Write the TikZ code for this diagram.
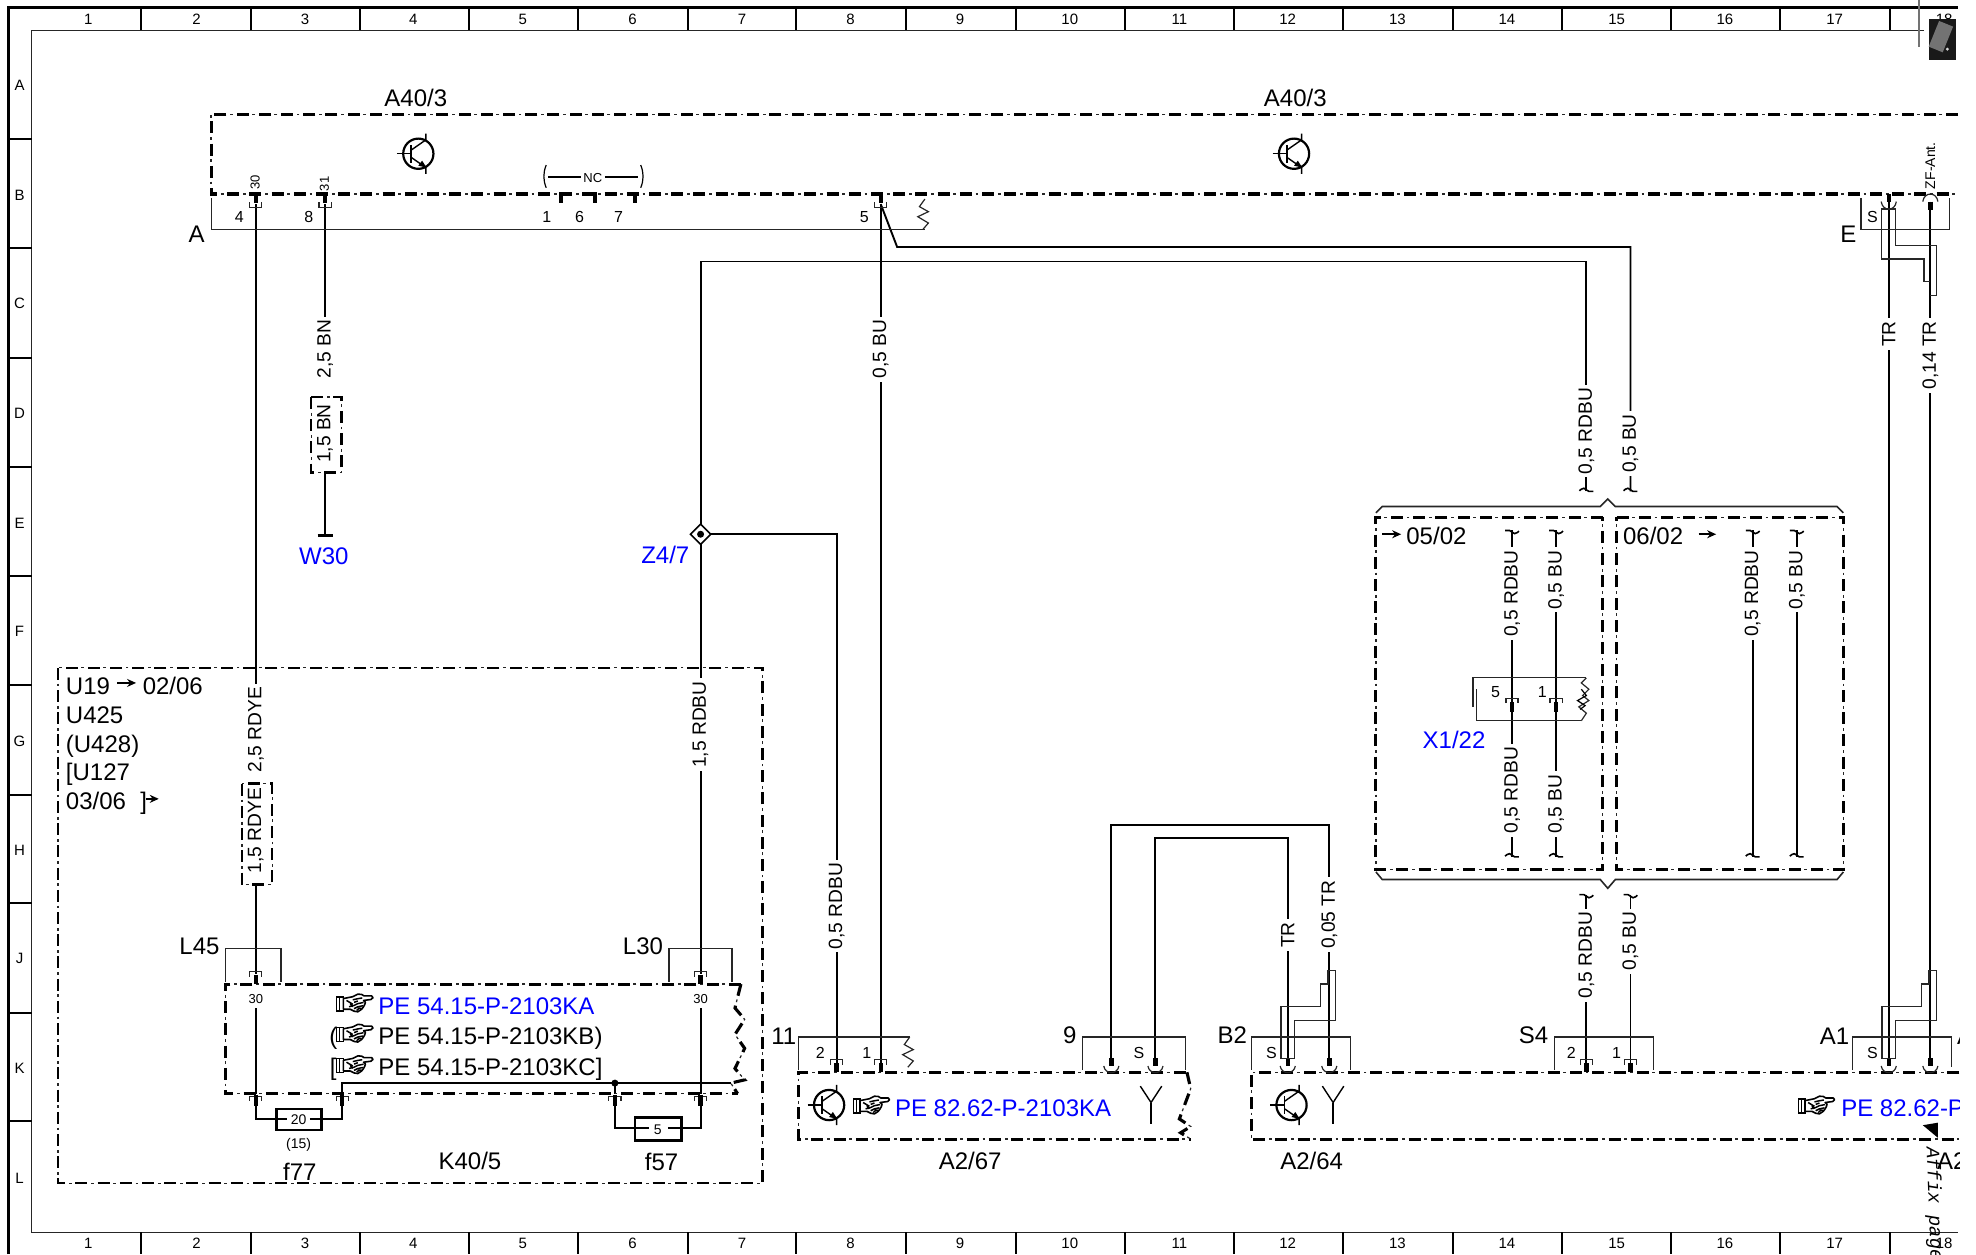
\documentclass[tikz,border=0pt]{standalone}
\usepackage{fontspec}
\setmainfont{Liberation Sans}
\setmonofont{Liberation Mono}
\usetikzlibrary{arrows.meta}
\definecolor{refblue}{RGB}{0,0,255}
\tikzset{
 wire/.style={line width=.95pt,black},
 thinl/.style={line width=.6pt,black!85},
 frameline/.style={line width=1pt,black},
 boxdash/.style={line width=1.55pt,black,dash pattern=on 6pt off 5.1pt,
   postaction={draw,line width=.6pt,black!85,dash pattern=on 1.4pt off 9.7pt,dash phase=3.2pt}},
 subdash/.style={line width=1.25pt,black,dash pattern=on 6pt off 5.1pt,
   postaction={draw,line width=.6pt,black!85,dash pattern=on 1.4pt off 9.7pt,dash phase=3.2pt}},
 stub/.style={line width=2.2pt,black},
 txt/.style={font=\fontsize{12}{12}\selectfont,inner sep=0pt,text height=8.6pt,text depth=0pt},
 bluetxt/.style={txt,text=refblue},
 small/.style={font=\fontsize{8}{8}\selectfont,inner sep=0pt},
 tiny/.style={font=\fontsize{6.5}{6.5}\selectfont,inner sep=0pt},
 gridno/.style={font=\fontsize{7.5}{7.5}\selectfont,inner sep=0pt},
 wirelabel/.style={font=\fontsize{9.6}{9.6}\selectfont,rotate=90,fill=white,inner sep=1.6pt,xshift=.6pt},
 arrowl/.style={line width=.8pt,-{Stealth[length=4.5pt,width=4pt]}},
}
% bracket: x, y of the closed side, y of the open ends
\newcommand\brk[3]{\draw[thinl] (#1-4.8,#3)--(#1-4.8,#2)--(#1+4.8,#2)--(#1+4.8,#3);}
% cup: x, y of the opening, y of the rounded side
\newcommand\cupp[3]{\draw[thinl] (#1-6,#2) .. controls (#1-5,#3) and (#1+5,#3) .. (#1+6,#2);}
\newcommand\hookk[3]{\begin{scope}[shift={(#1,#2)},xscale=#3,yscale=#3]
 \draw[wire,line width=.8pt] (-5.5,0)--(-2,0) .. controls (-.5,0) and (.5,2.5) .. (2,2.5) .. controls (3.5,2.5) and (5,1) .. (5.5,.5);
\end{scope}}
\newcommand\transistor[2]{\begin{scope}[shift={(#1,#2)}]
 \draw[line width=1.1pt] (0,0) circle[radius=12];
 \draw[line width=.7pt] (-17,0)--(-5,0);
 \draw[line width=.9pt] (-5.5,-7)--(-5.5,7);
 \draw[line width=.7pt] (-5.5,-3)--(6,-11) (6,-16)--(6,-11);
 \draw[line width=.7pt] (-5.5,3)--(6,11) (6,11)--(6,16);
 \fill (6.5,11)--(0,9.5)--(3,5.5)--cycle;
\end{scope}}
\newcommand\antenna[2]{\begin{scope}[shift={(#1,#2)}]
 \draw[line width=.7pt] (-8.5,-15)--(0,-2)--(8.5,-15);
 \draw[line width=.95pt] (0,-2)--(0,15);
\end{scope}}
\newcommand\zigz[2]{\draw[thinl] (#1,#2)--++(-4.3,6)--++(7.1,4)--++(-8.4,4)--++(8.4,5)--++(-4.3,5);}
\newcommand\shield[2]{\begin{scope}[shift={(#1,#2)}]
 \draw[line width=.7pt,black!85] (0,0)--(0,-41)--(31.5,-41)--(31.5,-59)--(37.5,-59)--(37.5,-70)--(43.5,-70)--(43.5,-30)--(11,-30)--(11,0)--cycle;
\end{scope}}
\newcommand\handicon[2]{\begin{scope}[shift={(#1,#2)}]
 \draw[line width=.6pt,fill=white] (-13.8,-4.8) rectangle (-8.5,6.3);
 \draw[line width=.5pt] (-11.2,-4.8)--(-11.2,6.3);
 \draw[line width=.8pt,fill=white,line join=round] (-8.5,-3.5)--(-1,-5)--(3,-7)--(6,-6.8)--(8,-5.6)--(14,-5.6)--(15,-4.2)--(13.5,-2.8)--(7.5,-2)--(9,-.6)--(8.5,1.2)--(7.5,3)--(6,5)--(3,7)--(0,6.5)--(-3,5)--(-8.5,5)--cycle;
 \draw[line width=.75pt] (-6,-2)--(-1,1) (-4,3)--(0,2)--(3,.5)--(7.5,-.4) (0,4.5)--(3,3)--(7,2.2) (2,6)--(4,4.2)--(6,4.2) (-1,-2.5)--(3,-3.4)--(6.5,-4) (0,-.5)--(3,-1.6) (-3,.5)--(-1,3);
\end{scope}}
\begin{document}
\begin{tikzpicture}[x=.63pt,y=-.63pt]
\useasboundingbox (0,0) rectangle (1568.25,995.25);
% ----- frame -----
\draw[line width=1.4pt] (7,995.25)--(7,6)--(1554,6);
\draw[thinl] (1527,24)--(25,24)--(25,978)--(1554,978);
\foreach \x in {112,199,286,372,459,546,632,719,806,893,979,1066,1153,1240,1326,1413,1500}{
 \draw[frameline] (\x,6)--(\x,24);
 \draw[frameline] (\x,978)--(\x,995.25);
}
\foreach \y in {110,197,284,371,457,544,631,717,804,890}{
 \draw[frameline] (7,\y)--(25,\y);
}
\foreach \n/\x in {1/70,2/156,3/242,4/328,5/415,6/502,7/589,8/675,9/762,10/849,11/936,12/1022,13/1109,14/1196,15/1283,16/1369,17/1456,18/1543}{
 \node[gridno] (topn\n) at (\x,15.5) {\n};
 \node[gridno] (botn\n) at (\x,987) {\n};
}
\foreach \n/\y in {A/68,B/155,C/241,D/328,E/415,F/501,G/588,H/675,J/761,K/848,L/935}{
 \node[gridno] (row\n) at (15.5,\y) {\n};
}
\draw[line width=.9pt,black!55] (1523,0)--(1523,37);
\fill[black!90] (1531,15) rectangle (1552,48);
\fill[black!55,rotate around={-22:(1540,30)}] (1534,18) rectangle (1546,40);
\fill[white!85!black] (1545.5,39) circle[radius=1.3];
% ----- coordinates of the wire ends -----
\coordinate (a30) at (203,162);
\coordinate (brye) at (203,702);
\coordinate (bbn) at (258,375);
\coordinate (l45) at (203,773);
\coordinate (l45b) at (203,800);
\coordinate (f77l) at (203,868);
\coordinate (f77r) at (271.6,868);
\coordinate (a31) at (258,162);
\coordinate (w30) at (258,425);
\coordinate (a5) at (699,162);
\coordinate (p1) at (699,844);
\coordinate (p2) at (664,844);
\coordinate (z47) at (556,424);
\coordinate (l30) at (556,773);
\coordinate (l30b) at (556,800);
\coordinate (f57r) at (556,868);
\coordinate (f57l) at (488,868);
\coordinate (juncf) at (488,859.6);
\coordinate (t1) at (1259,390);
\coordinate (t2) at (1294,390);
\coordinate (q1) at (1200,421);
\coordinate (q2) at (1235,421);
\coordinate (q3) at (1391,421);
\coordinate (q4) at (1426,421);
\coordinate (r1) at (1200,680);
\coordinate (r2) at (1235,680);
\coordinate (r3) at (1391,680);
\coordinate (r4) at (1426,680);
\coordinate (s1) at (1259,710);
\coordinate (s2) at (1294,710);
\coordinate (s4a) at (1259,844);
\coordinate (s4b) at (1294,844);
\coordinate (n1) at (882,846);
\coordinate (n2) at (917,846);
\coordinate (b1) at (1022,846);
\coordinate (b2) at (1055,846);
\coordinate (e1) at (1499,160);
\coordinate (e2) at (1532,160);
\coordinate (m1) at (1499,846);
\coordinate (m2) at (1532,846);
% ----- wires -----
\draw[wire] (a30)--(203,550);
\draw[wire] (brye)--(l45);
\draw[wire] (l45b)--(f77l);
\draw[wire] (a31)--(258,262);
\draw[wire] (bbn)--(w30);
\draw[line width=1.6pt] (252,425)--(264,425);
\draw[wire] (a5)--(p1);
\draw[wire] (a5)--(712,196)--(1294,196)--(t2);
\draw[wire] (t1)--(1259,207.5)--(556,207.5)--(z47);
\draw[wire] (z47)--(l30);
\draw[wire] (l30b)--(f57r);
\draw[wire] (z47)-|(p2);
\draw[wire] (q1)--(r1);
\draw[wire] (q2)--(r2);
\draw[wire] (q3)--(r3);
\draw[wire] (q4)--(r4);
\draw[wire] (s1)--(s4a);
\draw[wire] (s2)--(s4b);
\draw[wire] (n1)--(882,655)--(1055,655)--(b2);
\draw[wire] (n2)--(917,665)--(1022,665)--(b1);
\draw[wire] (e1)--(m1);
\draw[wire] (e2)--(m2);
\draw[wire] (f77r)--(271.6,859.6)--(580,859.6);
\draw[wire] (juncf)--(f57l);
\fill (juncf) circle[radius=2.8];
% hooks
\hookk{1259}{390}{-1}\hookk{1294}{390}{-1}
\hookk{1200}{421}{1}\hookk{1235}{421}{1}\hookk{1391}{421}{1}\hookk{1426}{421}{1}
\hookk{1200}{680}{-1}\hookk{1235}{680}{-1}\hookk{1391}{680}{-1}\hookk{1426}{680}{-1}
\hookk{1259}{710}{1}\hookk{1294}{710}{1}
% ----- A40/3 module -----
\draw[boxdash] (1554,91)--(167.5,91)--(167.5,154)--(1554,154);
\node[txt] (a403a) at (330,78) {A40/3};
\node[txt] (a403b) at (1028,78) {A40/3};
\transistor{332}{122}
\transistor{1027}{122}
\draw[thinl] (168,157)--(168,182)--(734,182);
\zigz{734}{158}
\node[txt] (labA) at (156,186) {A};
\node[tiny,rotate=90] (n30) at (202.5,145) {30};
\node[tiny,rotate=90] (n31) at (257.5,146) {31};
\node[small] (pin4) at (190,172.5) {4};
\node[small] (pin8) at (245,172.5) {8};
\node[small] (pinx1) at (434,172.5) {1};
\node[small] (pin6) at (460,172.5) {6};
\node[small] (pin7) at (491,172.5) {7};
\node[small] (pin5) at (686,172.5) {5};
\foreach \x in {203,258,699}{
 \draw[stub] (\x,154)--(\x,161);
 \brk{\x}{164.5}{160.5}
}
% NC group
\draw[line width=1.9pt] (452,154)-|(445,161);
\draw[line width=1.9pt] (465,154)-|(472,161);
\draw[line width=1.9pt] (504,154)--(504,161);
\node[tiny] (nc) at (470.5,141) {NC};
\draw[line width=.7pt] (435,140.5)--(461,140.5);
\draw[line width=.7pt] (480,140.5)--(506,140.5);
\draw[line width=.6pt] (433.5,131) .. controls (431,137) and (431,143) .. (433.5,149);
\draw[line width=.6pt] (508.5,131) .. controls (511,137) and (511,143) .. (508.5,149);
% E connector
\draw[thinl] (1477,157)--(1477,182)--(1547,182)--(1547,157);
\node[small] (sE) at (1486,172.5) {S};
\node[txt] (labE) at (1467,186) {E};
\draw[stub] (1499,154)--(1499,160);
\cupp{1499}{160}{168}
\draw[stub] (1532,160)--(1532,167);
\cupp{1532}{160}{152}
\node[font=\fontsize{7}{7}\selectfont,inner sep=0pt,rotate=90] (zf) at (1532,131.5) {ZF-Ant.};
\draw[line width=.7pt,black!85] (1504.5,166)--(1493,166)--(1493,205.5)--(1527,205.5)--(1527,223.6)--(1532,223.6);
\draw[line width=.7pt,black!85] (1532,234.6)--(1537,234.6)--(1537,195)--(1504.5,195)--(1504.5,166);
% ----- wire labels -----
\node[wirelabel] (l1) at (203,580) {2,5 RDYE};
\node[wirelabel] (l2) at (258,278) {2,5 BN};
\node[wirelabel] (l3) at (699,278) {0,5 BU};
\node[wirelabel] (l4) at (1259,343) {0,5 RDBU};
\node[wirelabel] (l5) at (1294,353) {0,5 BU};
\node[wirelabel] (l6) at (556,576) {1,5 RDBU};
\node[wirelabel] (l7) at (664,720) {0,5 RDBU};
\node[wirelabel] (l8) at (1200,472) {0,5 RDBU};
\node[wirelabel] (l9) at (1235,461) {0,5 BU};
\node[wirelabel] (l10) at (1391,472) {0,5 RDBU};
\node[wirelabel] (l11) at (1426,461) {0,5 BU};
\node[wirelabel] (l12) at (1200,628) {0,5 RDBU};
\node[wirelabel] (l13) at (1235,639) {0,5 BU};
\node[wirelabel] (l14) at (1259,759) {0,5 RDBU};
\node[wirelabel] (l15) at (1294,748) {0,5 BU};
\node[wirelabel] (l16) at (1022,743) {TR};
\node[wirelabel] (l17) at (1055,727) {0,05 TR};
\node[wirelabel] (l18) at (1499,266) {TR};
\node[wirelabel] (l19) at (1532,283) {0,14 TR};
% inline boxes
\draw[subdash] (247,315) rectangle (271,375);
\node[wirelabel,fill=none] (l20) at (258,345) {1,5 BN};
\draw[subdash] (192,622) rectangle (216,702);
\node[wirelabel,fill=none] (l21) at (203,660) {1,5 RDYE};
% W30, Z4/7
\node[txt,text=refblue] (w30t) at (257,441) {W30};
\node[txt,text=refblue] (z47t) at (528,440) {Z4/7};
\draw[line width=.8pt,fill=white] (556,416)--(564,424)--(556,432)--(548,424)--cycle;
\fill (z47) circle[radius=2.8];
% ----- K40/5 -----
\draw[subdash] (46,530) rectangle (605,939);
\node[txt,anchor=west] (u19) at (52,544) {U19};
\coordinate (arr1a) at (93,542);
\coordinate (arr1b) at (108,542);
\draw[arrowl] (arr1a)--(arr1b);
\node[txt,anchor=west] (d0206) at (113,544) {02/06};
\node[txt,anchor=west] (u425) at (52,567) {U425};
\node[txt,anchor=west] (u428) at (52,590) {(U428)};
\node[txt,anchor=west] (u127) at (52,613) {[U127};
\node[txt,anchor=west] (d0306) at (52,636) {03/06};
\node[txt,anchor=west] (brk0306) at (111,636) {]};
\coordinate (arr2a) at (116,634);
\coordinate (arr2b) at (126,634);
\draw[arrowl] (arr2a)--(arr2b);
% inner box
\draw[boxdash] (588,781)--(178.7,781)--(178.7,868)--(585.4,868);
\draw[boxdash] (588,781)--(583.3,800)--(591,809)--(583.3,821)--(591,832)--(583.3,848)--(591,857)--(580,859.6)--(585.4,868);
\node[txt,anchor=east] (l45t) at (174.5,751) {L45};
\node[txt,anchor=east] (l30t) at (526.5,751) {L30};
\draw[thinl] (178.7,779)--(178.7,753)--(223,753)--(223,779);
\draw[thinl] (531,779)--(531,753)--(581,753)--(581,779);
\foreach \x in {203,556}{
 \brk{\x}{771}{775}
 \draw[stub] (\x,774)--(\x,781);
}
\node[tiny] (t30a) at (203,793) {30};
\node[tiny] (t30b) at (556,793) {30};
\foreach \x in {203,271.6,488,556}{
 \brk{\x}{870}{873.5}
 \draw[stub] (\x,869)--(\x,877.5);
}
\handicon{281}{796}
\node[bluetxt,anchor=west] (pe1) at (300,798) {PE 54.15-P-2103KA};
\node[txt] (po) at (264.5,822) {(};
\handicon{281}{820}
\node[txt,anchor=west] (pe2) at (300,822) {PE 54.15-P-2103KB)};
\node[txt] (bo) at (264.5,847) {[};
\handicon{281}{845}
\node[txt,anchor=west] (pe3) at (300,847) {PE 54.15-P-2103KC]};
% fuses
\draw[wire] (203,877)--(203,888)--(228,888);
\draw[wire] (246,888)--(271.6,888)--(271.6,877);
\draw[line width=1.2pt] (219.4,880) rectangle (255,897);
\node[font=\fontsize{7}{7}\selectfont,inner sep=0pt] (fv20) at (237,888.5) {20};
\node[font=\fontsize{7}{7}\selectfont,inner sep=0pt] (fv15) at (237,909) {(15)};
\node[txt] (f77) at (238,930) {f77};
\draw[wire] (488,877)--(488,895)--(515,895);
\draw[wire] (530,895)--(556,895)--(556,877);
\draw[line width=1.2pt] (504,887) rectangle (541,905);
\node[font=\fontsize{7}{7}\selectfont,inner sep=0pt] (fv5) at (522,896.5) {5};
\node[txt] (f57) at (525,922) {f57};
\node[txt] (k405) at (373,921) {K40/5};
% ----- A2/67 -----
\draw[boxdash] (941,851)--(634,851)--(634,904)--(945,904);
\draw[boxdash] (942,851)--(945,864)--(936,888)--(945,894)--(937,899)--(945,904);
\draw[thinl] (634,849)--(634,823)--(722,823);
\zigz{722}{823}
\node[txt] (n11) at (622,822) {11};
\node[small] (p2t) at (651,836) {2};
\node[small] (p1t) at (688,836) {1};
\foreach \x in {664,699}{
 \brk{\x}{841}{845}
 \draw[stub] (\x,844)--(\x,851);
}
\transistor{658}{877}
\handicon{691}{877}
\node[bluetxt,anchor=west] (pe4) at (710,879) {PE 82.62-P-2103KA};
\antenna{913.5}{877}
\node[txt] (a267) at (770,921) {A2/67};
% connector 9
\draw[thinl] (859,849)--(859,823)--(941,823)--(941,849);
\node[txt] (n9) at (849,821) {9};
\node[small] (s9) at (904,836) {S};
\foreach \x in {882,917}{
 \draw[stub] (\x,840)--(\x,846);
 \cupp{\x}{846}{853}
}
% ----- A2/64 -----
\begin{scope}
\clip (0,0) rectangle (1555,995);
\draw[boxdash] (1555,851)--(993,851)--(993,904)--(1555,904);
\draw[thinl] (993,849)--(993,823)--(1072,823)--(1072,849);
\node[txt] (b2t) at (978,821) {B2};
\node[small] (sb2) at (1009,836) {S};
\foreach \x in {1022,1055,1499,1532}{
 \draw[stub] (\x,840)--(\x,846);
 \cupp{\x}{846}{853}
}
\transistor{1025}{877}
\antenna{1058}{877}
\node[txt] (a264) at (1041,921) {A2/64};
\shield{1016.5}{840}
\shield{1493.5}{840}
% S4
\draw[thinl] (1234,849)--(1234,823)--(1312,823)--(1312,849);
\node[txt] (s4t) at (1217,821) {S4};
\node[small] (s4n2) at (1247,835.5) {2};
\node[small] (s4n1) at (1283,835.5) {1};
\foreach \x in {1259,1294}{
 \brk{\x}{841}{845}
 \draw[stub] (\x,844)--(\x,851);
}
% A1
\draw[thinl] (1470,849)--(1470,823)--(1549,823)--(1549,847);
\node[txt] (a1t) at (1456,822) {A1};
\node[txt,anchor=west] (a2c) at (1553,822) {A};
\node[small] (sa1) at (1486,835.5) {S};
\handicon{1441}{877}
\node[bluetxt,anchor=west] (pe5) at (1461,879) {PE 82.62-P-2103KA};
\fill (1526,893)--(1538,891)--(1538,903)--cycle;
\node[txt,anchor=west] (a2d) at (1537,921) {A2};
\end{scope}
\node[font=\ttfamily\itshape\fontsize{9.5}{9.5}\selectfont,inner sep=0pt,rotate=-88,anchor=west] (affix) at (1533,910) {Affix page};
% ----- 05/02 and 06/02 -----
\draw[boxdash] (1272,410.5)--(1092,410.5)--(1092,690)--(1272,690)--cycle;
\draw[boxdash] (1283,410.5)--(1463,410.5)--(1463,690)--(1283,690)--cycle;
\draw[thinl,line width=.8pt] (1092,407)--(1097,402)--(1270,402)--(1276,396)--(1282,402)--(1458,402)--(1463,407);
\draw[thinl,line width=.8pt] (1092,692)--(1097,698)--(1270,698)--(1276,705)--(1282,698)--(1458,698)--(1463,692);
\coordinate (ar3a) at (1097,424);
\coordinate (ar3b) at (1112,424);
\draw[arrowl] (ar3a)--(ar3b);
\node[txt] (d0502) at (1140,425) {05/02};
\node[txt] (d0602) at (1312,425) {06/02};
\coordinate (ar4a) at (1348,424);
\coordinate (ar4b) at (1362,424);
\draw[arrowl] (ar4a)--(ar4b);
% X1/22
\draw[thinl] (1169,561)--(1169,538)--(1259,538);
\draw[thinl] (1172,547)--(1172,572)--(1255,572);
\draw[thinl] (1259,538)--(1255,542)--(1261,547)--(1256,552)--(1261,556)--(1253,561)--(1259,566)--(1255,572);
\draw[line width=.6pt] (1255,547)--(1259,552)--(1252,556)--(1258,560)--(1254,563);
\node[small] (x5) at (1187,549) {5};
\node[small] (x1) at (1224,549) {1};
\foreach \x in {1200,1235}{
 \brk{\x}{554.5}{558}
 \draw[stub] (\x,557)--(\x,565);
}
\node[txt,text=refblue] (x122) at (1154,587) {X1/22};
\end{tikzpicture}
\end{document}
